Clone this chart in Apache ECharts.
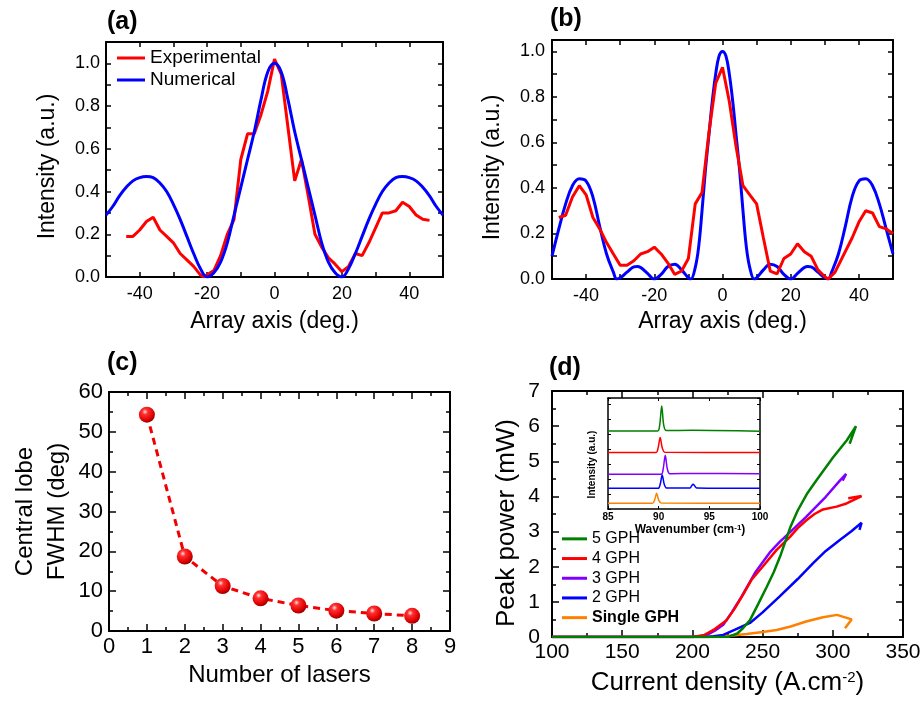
<!DOCTYPE html>
<html><head><meta charset="utf-8">
<script src="https://cdn.jsdelivr.net/npm/echarts@6/dist/echarts.min.js"></script>
<style>html,body{margin:0;padding:0;background:#fff}#c{width:921px;height:704px}</style>
</head><body><div id="c"></div>
<script>
// ---------- DATA ----------
// (a)
const aExperimental = [[-44,0.19],[-42,0.19],[-40,0.22],[-38,0.26],[-36,0.28],[-34,0.22],[-32,0.19],[-30,0.16],[-28,0.11],[-26,0.08],[-24,0.05],[-22,0.01],[-21,0.0],[-20,0.01],[-18,0.03],[-16,0.10],[-14,0.20],[-12,0.27],[-10,0.55],[-8,0.67],[-6,0.67],[-4,0.76],[-2,0.87],[0,1.02],[2,0.95],[4,0.70],[6,0.45],[8,0.55],[10,0.38],[12,0.20],[14,0.14],[16,0.09],[18,0.06],[20,0.025],[22,0.05],[24,0.11],[26,0.10],[28,0.16],[30,0.23],[32,0.30],[34,0.30],[36,0.31],[38,0.35],[40,0.33],[42,0.29],[44,0.27],[46,0.265]];
const aNumerical = [[-50,0.29],[-48,0.33],[-46,0.38],[-44,0.42],[-42,0.45],[-40,0.465],[-38,0.47],[-36,0.465],[-34,0.44],[-32,0.40],[-30,0.34],[-28,0.27],[-26,0.19],[-24,0.11],[-22,0.04],[-20,0.0],[-18,0.02],[-16,0.07],[-14,0.16],[-12,0.29],[-10,0.42],[-8,0.55],[-6,0.68],[-4,0.83],[-2,0.96],[0,1.0],[2,0.96],[4,0.83],[6,0.68],[8,0.55],[10,0.42],[12,0.29],[14,0.16],[16,0.07],[18,0.02],[20,0.0],[22,0.04],[24,0.11],[26,0.19],[28,0.27],[30,0.34],[32,0.40],[34,0.44],[36,0.465],[38,0.47],[40,0.465],[42,0.45],[44,0.42],[46,0.38],[48,0.33],[50,0.29]];
// (b)
const bExperimental = [[-48,0.27],[-46,0.28],[-44,0.36],[-42,0.41],[-40,0.37],[-38,0.27],[-36,0.22],[-34,0.16],[-32,0.11],[-30,0.06],[-28,0.06],[-26,0.08],[-24,0.11],[-22,0.12],[-20,0.14],[-18,0.11],[-16,0.07],[-14,0.02],[-12,0.035],[-10,0.09],[-8,0.33],[-6,0.38],[-4,0.64],[-2,0.86],[0,0.93],[2,0.78],[4,0.58],[6,0.41],[8,0.37],[10,0.33],[12,0.18],[14,0.035],[16,0.022],[18,0.09],[20,0.11],[22,0.155],[24,0.12],[26,0.10],[28,0.04],[30,0.01],[31,0.0],[33,0.03],[36,0.12],[38,0.18],[40,0.25],[42,0.30],[44,0.29],[46,0.23],[48,0.22],[50,0.20]];
const bNumerical = [[-50,0.10],[-48,0.22],[-46,0.33],[-44,0.41],[-42,0.44],[-40,0.43],[-38,0.36],[-36,0.23],[-34,0.11],[-32,0.03],[-31,0.0],[-30,0.005],[-28,0.03],[-26,0.053],[-25,0.055],[-24,0.05],[-22,0.025],[-20,0.0],[-18,0.02],[-16,0.055],[-14,0.065],[-12,0.04],[-10,0.005],[-9.3,0.0],[-8,0.05],[-7,0.14],[-6,0.30],[-5,0.48],[-4,0.63],[-3,0.78],[-2,0.90],[-1,0.98],[0,1.0],[1,0.98],[2,0.90],[3,0.78],[4,0.63],[5,0.48],[6,0.30],[7,0.14],[8,0.05],[9.3,0.0],[10,0.005],[12,0.04],[14,0.065],[16,0.055],[18,0.02],[20,0.0],[22,0.025],[24,0.05],[25,0.055],[26,0.053],[28,0.03],[30,0.005],[31,0.0],[32,0.03],[34,0.11],[36,0.23],[38,0.36],[40,0.43],[42,0.44],[44,0.41],[46,0.33],[48,0.22],[50,0.11]];
// (c)
const cLasers = [1,2,3,4,5,6,7,8];
const cFWHM = [54.3,18.7,11.3,8.2,6.4,5.1,4.4,3.8];
// (d)
const dGPH5 = [[100,0],[200,0],[220,0],[226,0.01],[232,0.1],[236,0.25],[241,0.48],[247,0.95],[253,1.43],[258,1.85],[263,2.35],[269.5,3.1],[275,3.6],[282,4.1],[288.5,4.47],[300,5.1],[310,5.6],[316.5,6.0],[312,5.5]];
const dGPH4 = [[100,0],[200,0],[208,0.05],[215,0.2],[220,0.35],[224.4,0.48],[230,0.8],[236,1.2],[242,1.62],[250,2.0],[260,2.48],[269.5,2.85],[275,3.1],[281.4,3.33],[287,3.5],[293,3.63],[302.7,3.71],[309.8,3.8],[315,3.9],[320.5,4.01],[311,3.95]];
const dGPH3 = [[100,0],[200,0],[210,0.05],[216,0.18],[222,0.35],[228,0.7],[235,1.15],[245,1.85],[255,2.4],[262,2.7],[270,3.0],[281,3.42],[295,3.99],[305,4.45],[309.5,4.64],[307,4.45]];
const dGPH2 = [[100,0],[210,0],[215,0.02],[222,0.06],[230,0.2],[241,0.4],[250,0.7],[262,1.15],[275,1.65],[286,2.1],[295,2.45],[305,2.76],[313,3.0],[320.5,3.25],[319,3.05]];
const dGPH1 = [[100,0],[215,0],[225,0.03],[238.7,0.085],[250,0.14],[260,0.2],[270,0.3],[281,0.44],[293,0.56],[303,0.63],[313.4,0.5],[308.7,0.25]];
// inset spectra (wavenumber, offset intensity)
const iGPH5 = [[85,5.22],[89.9,5.22],[90.1,5.6],[90.3,6.89],[90.5,5.6],[90.75,5.24],[93.3,5.26],[100,5.2]];
const iGPH4 = [[85,3.78],[89.75,3.78],[89.95,4.1],[90.15,4.78],[90.35,4.1],[90.6,3.8],[100,3.78]];
const iGPH3 = [[85,2.33],[90.25,2.33],[90.45,2.7],[90.65,3.6],[90.85,2.7],[91.1,2.36],[93.5,2.38],[100,2.35]];
const iGPH2 = [[85,1.38],[89.95,1.38],[90.15,1.65],[90.35,2.27],[90.55,1.65],[90.8,1.4],[93.1,1.4],[93.25,1.55],[93.4,1.65],[93.55,1.55],[93.75,1.4],[100,1.38]];
const iGPH1 = [[85,0.38],[89.4,0.38],[89.6,0.6],[89.8,1.05],[90.0,0.6],[90.25,0.4],[100,0.38]];

// ---------- STYLE / LAYOUT ----------
const FF = "'Liberation Sans', Arial, Helvetica, sans-serif";
const K = '#000';
const RED = '#ff0000', BLUE = '#0000ff', GREEN = '#008000', PURPLE = '#8000ff', ORANGE = '#ff8000';

function axisPair(dim, g, o) {
  const base = {
    type: 'value', gridIndex: g, min: o.min, max: o.max, interval: o.interval,
    axisLine: {show: true, onZero: false, lineStyle: {color: K, width: o.lw || 2}},
    axisTick: {show: true, inside: true, length: o.tick || 5, lineStyle: {color: K, width: o.tw || 1.5}},
    minorTick: {show: !!o.minor, splitNumber: 2, length: o.minorLen || 3, lineStyle: {color: K, width: o.tw || 1.5}},
    splitLine: {show: false}, minorSplitLine: {show: false}
  };
  const main = Object.assign({}, base, {
    position: dim === 'x' ? 'bottom' : 'left',
    axisLabel: {show: o.labels !== false, formatter: o.fmt, fontSize: o.fs, fontFamily: FF, color: K, margin: o.margin, fontWeight: o.fw || 'normal'},
    name: o.name, nameLocation: 'middle', nameGap: o.nameGap,
    nameTextStyle: Object.assign({fontSize: o.nfs, fontFamily: FF, color: K, fontWeight: o.nfw || 'normal'}, o.nts || {})
  });
  const opp = Object.assign({}, base, {position: dim === 'x' ? 'top' : 'right', axisLabel: {show: false}});
  return [main, opp];
}
const evenTenth = v => (Math.abs(v * 5 - Math.round(v * 5)) < 1e-6) ? v.toFixed(1) : '';
const by20 = v => (Math.abs(v % 20) < 1e-6) ? String(v) : '';

const xAxes = [].concat(
  axisPair('x', 0, {min: -50, max: 50, interval: 10, fmt: by20, fs: 18, margin: 8, name: 'Array axis (deg.)', nameGap: 33, nfs: 23}),
  axisPair('x', 1, {min: -50, max: 50, interval: 10, fmt: by20, fs: 18, margin: 8, name: 'Array axis (deg.)', nameGap: 31, nfs: 23}),
  axisPair('x', 2, {min: 0, max: 9, interval: 1, minor: true, fs: 22, margin: 5, tick: 7, minorLen: 4, name: 'Number of lasers', nameGap: 32, nfs: 24}),
  axisPair('x', 3, {min: 100, max: 350, interval: 50, minor: true, fs: 21, margin: 5, tick: 7, minorLen: 4, name: 'Current density (A.cm{sup|-2})', nameGap: 33, nfs: 26,
    nts: {rich: {sup: {fontSize: 15, fontFamily: FF, color: K, verticalAlign: 'top'}}}}),
  axisPair('x', 4, {min: 85, max: 100, interval: 5, fs: 10, fw: 'bold', margin: 3, tick: 3, lw: 1.5, tw: 1, name: 'Wavenumber (cm{sup|-1})', nameGap: 15, nfs: 12, nfw: 'bold',
    nts: {padding: [0, 0, 0, 12], rich: {sup: {fontSize: 8, fontWeight: 'bold', fontFamily: FF, color: K, verticalAlign: 'top'}}}})
);
const yAxes = [].concat(
  axisPair('y', 0, {min: 0, max: 1.1, interval: 0.1, fmt: evenTenth, fs: 18, margin: 6, name: 'Intensity (a.u.)', nameGap: 47, nfs: 23, nts: {padding: [0, 14, 0, 0]}}),
  axisPair('y', 1, {min: 0, max: 1.05, interval: 0.1, fmt: evenTenth, fs: 18, margin: 7, name: 'Intensity (a.u.)', nameGap: 48, nfs: 23, nts: {padding: [0, 16, 0, 0]}}),
  axisPair('y', 2, {min: 0, max: 60, interval: 10, minor: true, fs: 22, margin: 6, tick: 7, minorLen: 4, name: 'Central lobe\nFWHM (deg)', nameGap: 36, nfs: 24, nts: {lineHeight: 32}}),
  axisPair('y', 3, {min: 0, max: 7, interval: 1, minor: true, fs: 21, margin: 12, tick: 7, minorLen: 4, name: 'Peak power (mW)', nameGap: 32, nfs: 26, nts: {padding: [0, 18, 0, 0]}}),
  axisPair('y', 4, {min: 0, max: 7.42, interval: 1, labels: false, tick: 3, lw: 1.5, tw: 1, name: 'Intensity (a.u.)', nameGap: 11, nfs: 10, nfw: 'bold', nts: {padding: [0, 22, 0, 0]}})
);

function line(name, g, data, color, width, extra) {
  return Object.assign({type: 'line', name: name, xAxisIndex: 2 * g, yAxisIndex: 2 * g, data: data, color: color,
    showSymbol: false, symbol: 'none', lineStyle: {width: width, color: color}, silent: true, animation: false}, extra || {});
}

const sphere = {type: 'radial', x: 0.38, y: 0.32, r: 0.7, colorStops: [
  {offset: 0, color: '#ffe0e0'}, {offset: 0.25, color: '#ff3030'}, {offset: 0.75, color: '#e00000'}, {offset: 1, color: '#900000'}]};

const series = [
  line('Experimental', 0, aExperimental, RED, 3),
  line('Numerical', 0, aNumerical, BLUE, 3, {smooth: 0.4}),
  line('Numerical (b)', 1, bNumerical, BLUE, 3, {smooth: 0.4}),
  line('Experimental (b)', 1, bExperimental, RED, 3),
  {type: 'line', name: 'FWHM', xAxisIndex: 4, yAxisIndex: 4, data: cLasers.map((x, i) => [x, cFWHM[i]]),
    color: RED, lineStyle: {width: 3, type: [7, 5], color: '#f00000'}, symbol: 'circle', symbolSize: 16,
    itemStyle: {color: sphere, borderWidth: 0}, animation: false, silent: true},
  line('Single GPH', 3, dGPH1, ORANGE, 2.5),
  line('2 GPH', 3, dGPH2, BLUE, 2.5),
  line('3 GPH', 3, dGPH3, PURPLE, 2.5),
  line('4 GPH', 3, dGPH4, RED, 2.5),
  line('5 GPH', 3, dGPH5, GREEN, 2.5),
  line('i1', 4, iGPH1, ORANGE, 1.5, {smooth: 0.3}),
  line('i2', 4, iGPH2, BLUE, 1.5, {smooth: 0.3}),
  line('i3', 4, iGPH3, PURPLE, 1.5, {smooth: 0.3}),
  line('i4', 4, iGPH4, RED, 1.5, {smooth: 0.3}),
  line('i5', 4, iGPH5, GREEN, 1.5, {smooth: 0.3})
];

const panelLabel = (t, x, y) => ({type: 'text', x: x, y: y, style: {text: t, fontSize: 25, fontWeight: 'bold', fontFamily: FF, fill: K, verticalAlign: 'middle', align: 'left'}});

const option = {
  backgroundColor: '#fff',
  animation: false,
  textStyle: {fontFamily: FF},
  grid: [
    {left: 106, top: 42, width: 337, height: 235, outerBoundsMode: 'none'},
    {left: 552, top: 40, width: 341, height: 239, outerBoundsMode: 'none'},
    {left: 109, top: 392, width: 341, height: 239, outerBoundsMode: 'none'},
    {left: 552, top: 391, width: 351, height: 246, outerBoundsMode: 'none'},
    {left: 608, top: 398, width: 152, height: 111, outerBoundsMode: 'none', show: true, backgroundColor: '#fff', borderWidth: 0}
  ],
  xAxis: xAxes,
  yAxis: yAxes,
  legend: [
    {data: ['Experimental', 'Numerical'], orient: 'vertical', left: 117, top: 47, padding: 0, itemGap: 0,
      icon: 'rect', itemWidth: 28, itemHeight: 3, textStyle: {fontSize: 19, lineHeight: 22, fontFamily: FF, color: K}, selectedMode: false},
    {data: ['5 GPH', '4 GPH', '3 GPH', '2 GPH', {name: 'Single GPH', textStyle: {fontWeight: 'bold'}}], orient: 'vertical', left: 562, top: 529, padding: 0, itemGap: 0,
      icon: 'rect', itemWidth: 25, itemHeight: 3, textStyle: {fontSize: 16, lineHeight: 19.7, fontFamily: FF, color: K}, selectedMode: false}
  ],
  graphic: [panelLabel('(a)', 107, 22), panelLabel('(b)', 550, 19), panelLabel('(c)', 107, 363), panelLabel('(d)', 549, 368)],
  series: series
};
const chart = echarts.init(document.getElementById('c'), null, {renderer: 'canvas'});
chart.setOption(option);
</script></body></html>
